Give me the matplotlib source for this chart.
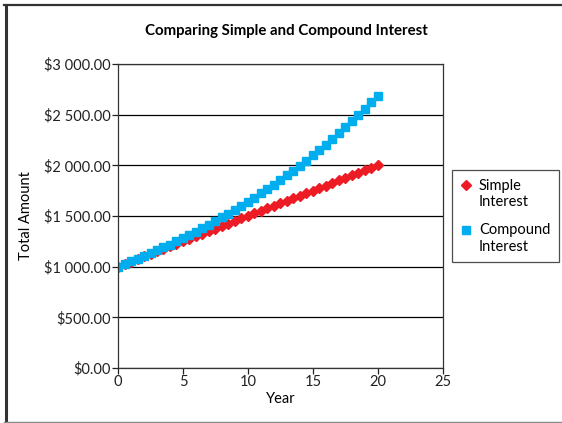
import numpy as np
import matplotlib.pyplot as plt
from matplotlib.lines import Line2D
from matplotlib.legend_handler import HandlerLine2D

plt.rcParams['font.family'] = ['Lato', 'DejaVu Sans']

# year in half-year steps
years = [i * 0.5 for i in range(41)]
simple = [1000, 1025, 1050, 1075, 1100, 1125, 1150, 1175, 1200, 1225,
          1250, 1275, 1300, 1325, 1350, 1375, 1400, 1425, 1450, 1475,
          1500, 1525, 1550, 1575, 1600, 1625, 1650, 1675, 1700, 1725,
          1750, 1775, 1800, 1825, 1850, 1875, 1900, 1925, 1950, 1975, 2000]
compound = [1000, 1025, 1051, 1077, 1104, 1131, 1160, 1189, 1218, 1249,
            1280, 1312, 1345, 1379, 1413, 1448, 1485, 1522, 1560, 1599,
            1639, 1680, 1722, 1765, 1809, 1854, 1900, 1948, 1997, 2046,
            2098, 2150, 2204, 2259, 2315, 2373, 2433, 2493, 2556, 2620, 2685]

yticks = [0, 500, 1000, 1500, 2000, 2500, 3000]
ytick_labels = ['$0.00', '$500.00', '$1 000.00', '$1 500.00',
                '$2 000.00', '$2 500.00', '$3 000.00']
xticks = [0, 5, 10, 15, 20, 25]

red = '#ED1C24'
blue = '#00AEEF'
fs = 10.5


class TopHandler(HandlerLine2D):
    # put the marker level with the first line of a two-line label
    def create_artists(self, legend, orig_handle, xdescent, ydescent,
                       width, height, fontsize, trans):
        arts = super().create_artists(legend, orig_handle, xdescent, ydescent,
                                      width, height, fontsize, trans)
        for a in arts:
            x, y = a.get_data()
            a.set_data(x, np.asarray(y) + 0.6 * fontsize)
        return arts


fig = plt.figure(figsize=(5.62, 4.23), dpi=100)
ax = fig.add_axes([0.21, 0.130, 0.578, 0.719])

l1, = ax.plot(years, simple, linestyle='none', marker='D', markersize=5.6,
              color=red, label='Simple\nInterest')
l2, = ax.plot(years, compound, linestyle='none', marker='s', markersize=5.6,
              color=blue, label='Compound\nInterest')

ax.set_xlim(0, 25)
ax.set_ylim(0, 3000)
ax.set_xticks(xticks)
ax.set_yticks(yticks)
ax.set_yticklabels(ytick_labels)
ax.yaxis.grid(True, color='black', linewidth=0.9)
ax.set_axisbelow(True)
ax.tick_params(direction='out', length=4, width=0.9, labelsize=fs, pad=1,
               colors='#222222')
for s in ax.spines.values():
    s.set_linewidth(0.9)
    s.set_color('#333333')

ax.set_xlabel('Year', fontsize=fs, labelpad=2)
ax.set_ylabel('Total Amount', fontsize=fs, labelpad=8)
fig.text(0.51, 0.926, 'Comparing Simple and Compound Interest',
         ha='center', va='center', fontsize=10.8, fontweight='bold')

leg = fig.legend(handles=[l1, l2], loc='center left',
                 bbox_to_anchor=(0.804, 0.489),
                 fontsize=fs, frameon=True, fancybox=False,
                 edgecolor='#222222', handlelength=0.8, handletextpad=0.45,
                 borderpad=0.6, labelspacing=1.0, borderaxespad=0,
                 handler_map={Line2D: TopHandler()})
leg.get_frame().set_linewidth(0.9)

# outer frame of the picture
fig.add_artist(Line2D([0.0105, 0.0105], [0, 0.988], color='#333333',
                      linewidth=2.2, transform=fig.transFigure))
fig.add_artist(Line2D([0.008, 1], [0.988, 0.988], color='#333333',
                      linewidth=1.6, transform=fig.transFigure))
fig.add_artist(Line2D([0.008, 1], [0.003, 0.003], color='#888888',
                      linewidth=1.0, transform=fig.transFigure))

fig.savefig('out.png', dpi=100)
